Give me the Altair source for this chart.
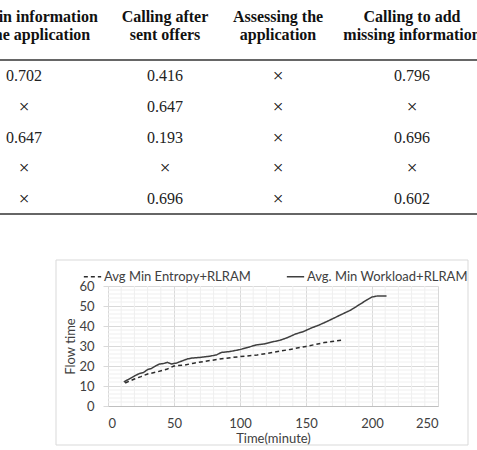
import altair as alt
import pandas as pd

# ---- table fragment (activity scores) ----
headers = [
    "Filling in information\ninto the application",
    "Calling after\nsent offers",
    "Assessing the\napplication",
    "Calling to add\nmissing information",
]
col_fill = ["0.702", "×", "0.647", "×", "×"]
col_after = ["0.416", "0.647", "0.193", "×", "0.696"]
col_assess = ["×", "×", "×", "×", "×"]
col_missing = ["0.796", "×", "0.696", "×", "0.602"]

# ---- flow time curves ----
workload_t = [12, 16, 20, 24, 27, 30, 33, 36, 39, 42, 45, 48, 52, 56, 60, 64, 70, 76,
              82, 86, 92, 100, 106, 112, 118, 124, 130, 136, 142, 148, 154, 160, 166,
              172, 176, 184, 190, 196, 200, 204, 211]
workload_v = [12, 13.5, 15, 16.3, 16.8, 18.2, 18.8, 20, 21, 21.2, 21.8, 21, 21.5, 22.5,
              23.5, 24, 24.3, 24.8, 25.5, 26.8, 27.2, 28.2, 29.3, 30.5, 31, 32, 32.8,
              34.2, 36, 37.2, 39, 40.5, 42.3, 44.2, 45.5, 48, 50.5, 53, 54.5, 55, 55]
entropy_t = [13, 20, 25, 30, 38, 45, 50, 58, 65, 75, 88, 100, 113, 125, 138, 150, 164, 172, 178]
entropy_v = [11.5, 13.5, 14.7, 16, 17.2, 18.5, 20, 20.5, 21.4, 22.5, 23.8, 24.7, 25.5,
             26.8, 28.3, 29.8, 31.7, 32.5, 33]

series_names = ["Avg Min Entropy+RLRAM", "Avg. Min Workload+RLRAM"]
x_ticks = [0, 50, 100, 150, 200, 250]
y_ticks = [0, 10, 20, 30, 40, 50, 60]
x_minor = [v for v in range(0, 251, 10) if v not in x_ticks]
y_minor = [v for v in range(0, 61, 2) if v not in y_ticks]

lines_df = pd.concat([
    pd.DataFrame({"t": entropy_t, "v": entropy_v, "s": series_names[0]}),
    pd.DataFrame({"t": workload_t, "v": workload_v, "s": series_names[1]}),
])

cols = [col_fill, col_after, col_assess, col_missing]
cells_df = pd.DataFrame([
    {"c": ci, "r": ri, "txt": val}
    for ci, col in enumerate(cols) for ri, val in enumerate(col)
])
head_df = pd.DataFrame({"c": list(range(len(headers))), "r": 0, "txt": headers})

PLOT_W, PLOT_H = 330, 120
LEFT, TOP = 108, 286
SANS = "Lato"
SERIF = "Liberation Serif"
AXIS_GREY = "#404040"

xs = alt.Scale(domain=[0, 250], nice=False)
ys = alt.Scale(domain=[0, 60], nice=False)

axis_text = dict(labelFont=SANS, titleFont=SANS, labelFontSize=13, titleFontSize=13,
                 labelColor=AXIS_GREY, titleColor=AXIS_GREY, titleFontWeight="normal")
x_axis = alt.Axis(values=x_ticks, grid=True, gridColor="#d9d9d9",
                  domain=True, domainColor="#bfbfbf", ticks=False,
                  labelPadding=11, titlePadding=2, **axis_text)
y_axis = alt.Axis(values=y_ticks, grid=True, gridColor="#d9d9d9",
                  domain=False, ticks=True, tickSize=5, tickColor="#d9d9d9",
                  labelPadding=9, titlePadding=1, **axis_text)

def x_enc(field):
    return alt.X(field, scale=xs, title="Time(minute)", axis=x_axis)

def y_enc(field):
    return alt.Y(field, scale=ys, title="Flow time", axis=y_axis)

legend = alt.Legend(orient="none", legendX=-25, legendY=-19,
                    direction="horizontal", title=None,
                    symbolType="stroke", symbolSize=300,
                    symbolStrokeWidth=1.6, labelFontSize=13, labelLimit=0,
                    labelFont=SANS, labelColor=AXIS_GREY,
                    columnPadding=32, labelOffset=2)

curves = alt.Chart(lines_df).mark_line(strokeWidth=1.5, interpolate="linear").encode(
    x=x_enc("t:Q"),
    y=y_enc("v:Q"),
    color=alt.Color("s:N", scale=alt.Scale(domain=series_names, range=["#2b2b2b", "#3f3f3f"]),
                    legend=legend),
    strokeDash=alt.StrokeDash("s:N", scale=alt.Scale(domain=series_names, range=[[4, 3], [1, 0]]),
                              legend=legend),
    order=alt.Order("t:Q"),
)

# faint minor gridlines
x_minor_rules = alt.Chart(pd.DataFrame({"t": x_minor})).mark_rule(
    color="#efefef", strokeWidth=1
).encode(x=x_enc("t:Q"))
y_minor_rules = alt.Chart(pd.DataFrame({"v": y_minor})).mark_rule(
    color="#efefef", strokeWidth=1
).encode(y=y_enc("v:Q"))

plot = alt.layer(x_minor_rules, y_minor_rules, curves)

# table layers share their own column / row scales
tx = alt.Scale(domain=[0, 1, 2, 3], range=[24 - LEFT, 165 - LEFT, 278 - LEFT, 412 - LEFT])
ty = alt.Scale(domain=[0, 4], range=[76 - TOP, 199 - TOP])

numbers = alt.Chart(cells_df).transform_filter(alt.datum.txt != "×").mark_text(
    font=SERIF, fontSize=16, color="#222222", baseline="middle", align="center"
).encode(
    x=alt.X("c:Q", scale=tx, axis=None),
    y=alt.Y("r:Q", scale=ty, axis=None),
    text="txt:N",
)
crosses = alt.Chart(cells_df).transform_filter(alt.datum.txt == "×").mark_text(
    font=SERIF, fontSize=19, color="#111111", baseline="middle", align="center"
).encode(
    x=alt.X("c:Q", scale=tx, axis=None),
    y=alt.Y("r:Q", scale=ty, axis=None),
    text="txt:N",
)
head = alt.Chart(head_df).mark_text(font=SERIF, fontSize=16, fontWeight="bold",
                                    color="#111111", baseline="middle", align="center",
                                    lineBreak="\n", lineHeight=18, yOffset=-59).encode(
    x=alt.X("c:Q", scale=tx, axis=None),
    y=alt.Y("r:Q", scale=ty, axis=None),
    text="txt:N",
)
rule_top = alt.Chart(pd.DataFrame({"r": [0]})).mark_rule(
    color="#333333", strokeWidth=1.5, yOffset=-16
).encode(x=alt.value(-LEFT), x2=alt.value(477 - LEFT), y=alt.Y("r:Q", scale=ty, axis=None))
rule_bottom = alt.Chart(pd.DataFrame({"r": [4]})).mark_rule(
    color="#333333", strokeWidth=1.5, yOffset=15
).encode(x=alt.value(-LEFT), x2=alt.value(477 - LEFT), y=alt.Y("r:Q", scale=ty, axis=None))

table = alt.layer(rule_top, rule_bottom, head, numbers, crosses)

# chart-area frame around the figure (outline only, so the axes stay visible)
frame = alt.Chart(pd.DataFrame({"k": [0]})).mark_rect(
    fillOpacity=0, stroke="#d9d9d9", strokeWidth=1
).encode(x=alt.value(56 - LEFT), x2=alt.value(468 - LEFT),
         y=alt.value(260 - TOP), y2=alt.value(445 - TOP))

chart = alt.layer(frame, table, plot).resolve_scale(
    x="independent", y="independent"
).properties(
    width=PLOT_W, height=PLOT_H,
    background="white",
    autosize=alt.AutoSizeParams(type="none"),
    padding={"left": LEFT, "top": TOP, "right": 477 - LEFT - PLOT_W, "bottom": 450 - TOP - PLOT_H},
).configure_view(stroke=None)

chart.save("out.html", embed_options={"renderer": "svg", "actions": False})
